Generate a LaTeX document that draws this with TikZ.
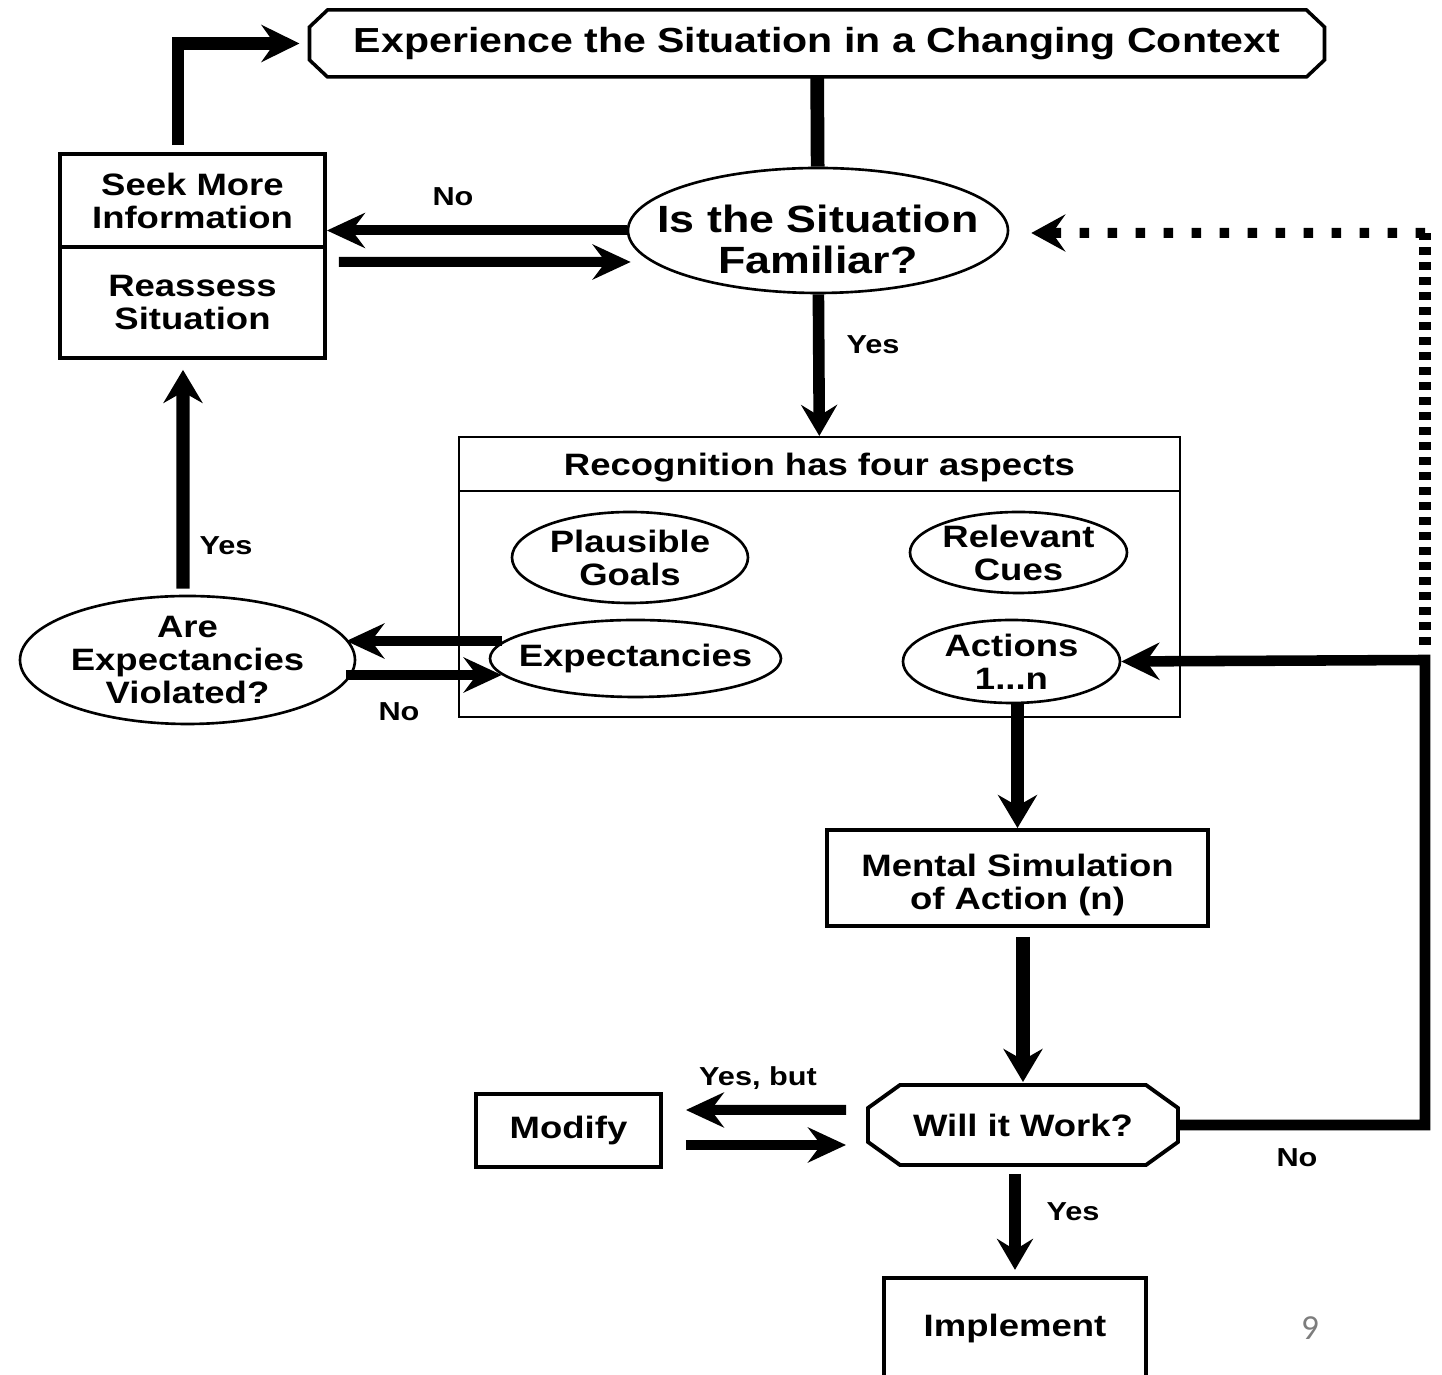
\documentclass[tikz,border=0pt]{standalone}
\usepackage{fontspec}
\setmainfont{Liberation Sans}[FakeStretch=1.18]
\newfontfamily\pagenumfont{Carlito}
\usepackage{tikz}
\usetikzlibrary{arrows.meta,shapes.geometric}
\usepackage{xcolor}
\definecolor{pagegray}{RGB}{125,125,125}
\newcommand{\octframe}[4][]{\draw[line width=1pt,#1] ([xshift=#3]#2.north west) -- ([xshift=-#3]#2.north east) -- ([yshift=-#4]#2.north east) -- ([yshift=#4]#2.south east) -- ([xshift=-#3]#2.south east) -- ([xshift=#3]#2.south west) -- ([yshift=#4]#2.south west) -- ([yshift=-#4]#2.north west) -- cycle;}

\begin{document}
\begin{tikzpicture}[
    txt/.style={font=\fontsize{8.8}{9.4}\selectfont\bfseries, align=center},
    box/.style={txt, draw, line width=1.1pt, inner sep=0pt},
    recbox/.style={txt, draw, line width=0.6pt, inner sep=0pt},
    oct/.style={txt, rectangle, inner sep=0pt, outer sep=0pt},
    ell/.style={txt, draw, ellipse, line width=0.75pt, inner sep=-5mm},
    lbl/.style={font=\fontsize{7.4}{8}\selectfont\bfseries},
    harrow/.style={line width=2.85pt, -{Stealth[length=3.8mm, width=3.5mm, inset=1.3mm]}},
    varrow/.style={line width=3.8pt, -{Stealth[length=3.3mm, width=3.9mm, inset=1.1mm]}},
    yarrow/.style={line width=3.3pt, -{Stealth[length=3.1mm, width=3.6mm, inset=1.1mm]}},
    elbow/.style={line width=3pt, -{Stealth[length=3.8mm, width=3.7mm, inset=1.3mm]}},
    vline/.style={line width=3.9pt},
    dotv/.style={line width=3.5pt, dash pattern=on 0.8mm off 0.7mm},
    doth/.style={line width=2.85pt, dash pattern=on 0.95mm off 1.85mm, -{Stealth[length=3.4mm, width=3.7mm, inset=1.3mm]}}
  ]
    \useasboundingbox (0,0) rectangle (14.42,-13.75);

    \node[oct, minimum width=10.15cm, minimum height=0.67cm, font=\fontsize{9.9}{11}\selectfont\bfseries] (exp) at (8.17,-0.435) {Experience the Situation in a Changing Context};
    \node[ell, minimum width=3.8cm, minimum height=1.25cm, text height=0.87cm, text depth=0pt, font=\fontsize{10.8}{11.7}\selectfont\bfseries] (fam) at (8.18,-2.305) {Is the Situation\\Familiar?};
    \node[box, minimum width=2.65cm, minimum height=0.93cm] (seek) at (1.925,-2.005) {Seek More\\Information};
    \node[box, minimum width=2.65cm, minimum height=1.11cm] (reass) at (1.925,-3.025) {Reassess\\Situation};
    \node[recbox, minimum width=7.21cm, minimum height=0.54cm, text depth=0pt] (head) at (8.195,-4.64) {Recognition has four aspects};
    \node[recbox, minimum width=7.21cm, minimum height=2.26cm] (body) at (8.195,-6.04) {};
    \node[ell, minimum width=2.36cm, minimum height=0.91cm] (goals) at (6.30,-5.575) {Plausible\\Goals};
    \node[ell, minimum width=2.17cm, minimum height=0.81cm] (cues) at (10.185,-5.525) {Relevant\\Cues};
    \node[ell, minimum width=2.91cm, minimum height=0.77cm] (expect) at (6.355,-6.585) {Expectancies};
    \node[ell, minimum width=2.17cm, minimum height=0.83cm] (actions) at (10.115,-6.615) {Actions\\1...n};
    \node[ell, minimum width=3.35cm, minimum height=1.28cm] (viol) at (1.875,-6.60) {Are\\Expectancies\\Violated?};
    \node[box, minimum width=3.81cm, minimum height=0.96cm, text height=0.70cm] (mental) at (10.175,-8.78) {Mental Simulation\\of Action (n)};
    \node[oct, minimum width=3.10cm, minimum height=0.80cm] (will) at (10.23,-11.25) {Will it Work?};
    \node[box, minimum width=1.85cm, minimum height=0.73cm] (modify) at (5.685,-11.305) {Modify};
    \node[box, minimum width=2.62cm, minimum height=1.02cm, line width=1.2pt] (impl) at (10.15,-13.29) {Implement};
    \node[font=\pagenumfont\fontsize{10}{12}\selectfont, text=pagegray] (pnum) at (13.10,-13.28) {9};

    \octframe{exp}{1.8mm}{1.7mm}
    \octframe[line width=1.1pt]{will}{3.2mm}{2.3mm}

    \coordinate (nocorner) at (14.25,-6.60);
    \coordinate (dotcorner) at (14.25,-2.33);

    \draw[vline] (exp) -- (fam);
    \draw[harrow] (fam.west) -- (seek.east |- fam.west);
    \draw[harrow] ([shift={(0.12,-0.615)}]seek.east) -- ([shift={(0.04,-0.315)}]fam.west);
    \draw[elbow, line width=3.6pt, shorten >=1mm] ([shift={(-0.145,0.07)}]seek.north) |- (exp.west);
    \draw[yarrow] (fam) -- (head);
    \draw[varrow, shorten >=1mm] ([shift={(-0.045,0.06)}]viol.north) -- ([xshift=-0.95mm]reass.south);
    \draw[harrow] ([shift={(0.13,0.175)}]expect.west) -- ([shift={(-0.1,0.19)}]viol.east);
    \draw[harrow] ([shift={(-0.1,-0.15)}]viol.east) -- ([shift={(0.13,-0.165)}]expect.west);
    \draw[varrow] (mental.north |- actions.south) -- (mental.north);
    \draw[varrow, shorten <=0.9mm, shorten >=0.3mm] (mental.south -| will.north) -- (will.north);
    \draw[harrow] ([shift={(-0.22,0.15)}]will.west) -- ([shift={(0.23,0.205)}]modify.east);
    \draw[harrow] ([shift={(0.23,-0.145)}]modify.east) -- ([shift={(-0.22,-0.2)}]will.west);
    \draw[elbow] (will.east) -| (nocorner) -- (actions.east);
    \draw[dotv] ([yshift=1.5mm]nocorner) -- (dotcorner);
    \draw[doth] (dotcorner) -- ([shift={(0.22,-0.025)}]fam.east);
    \draw[yarrow, shorten <=0.9mm, shorten >=0.6mm] (will.south -| impl.north) -- (impl.north);

    \node[lbl] (nofam) at (4.53,-1.97) {No};
    \node[lbl] (yesfam) at (8.73,-3.45) {Yes};
    \node[lbl] (yesviol) at (2.26,-5.46) {Yes};
    \node[lbl] (noviol) at (3.99,-7.12) {No};
    \node[lbl] (yesbut) at (7.58,-10.78) {Yes, but};
    \node[lbl] (nowill) at (12.97,-11.58) {No};
    \node[lbl] (yeswill) at (10.73,-12.12) {Yes};
\end{tikzpicture}
\end{document}
